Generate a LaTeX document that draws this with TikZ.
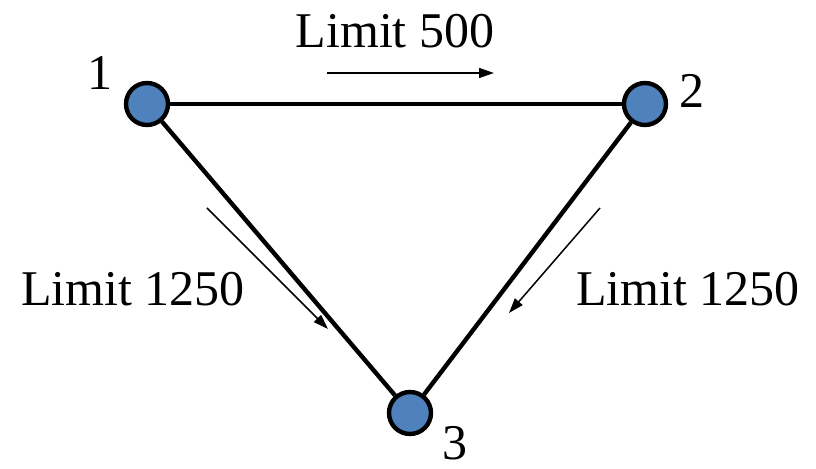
\documentclass[tikz,border=0pt]{standalone}
\usepackage{fontspec}
\setmainfont{Liberation Serif}
\newfontfamily\timesfont{Liberation Serif}
\usetikzlibrary{positioning, arrows.meta}
\definecolor{nodeblue}{HTML}{4F81BD}
\tikzset{
  vertex/.style={circle, draw=black, fill=nodeblue, line width=2.2pt, minimum size=21pt, inner sep=0pt},
  link/.style={line width=2.2pt},
  flow/.style={line width=0.75pt, -{Triangle[length=7.5pt, width=5pt]}}}

\begin{document}
\begin{tikzpicture}[
		x=0.5pt, y=-0.5pt,
		lbl/.style={font=\timesfont\fontsize{25}{30}\selectfont, inner sep=0pt}
		]
		\useasboundingbox (0,0) rectangle (816,469);
		
		\node[vertex] (v1) at (147,104) {};
		\node[vertex] (v2) at (645,104) {};
		\node[vertex] (v3) at (410,413) {};
		
		\draw[link] (v1) -- (v2);
		\draw[link] (v1) -- (v3);
		\draw[link] (v2) -- (v3);
		
		\node[lbl] (n1) at (100,73) {1};
		\node[lbl] (n2) at (692,91) {2};
		\node[lbl] (n3) at (455,443) {3};
		
		\node[lbl] (top) at (395,31) {Limit 500};
		\node[lbl] (left) at (133,289) {Limit 1250};
		\node[lbl] (right) at (688,289) {Limit 1250};
		
		\coordinate (a1) at (327,73);
		\coordinate (b1) at (494,73);
		\coordinate (a2) at (207,208);
		\coordinate (b2) at (328,329);
		\coordinate (a3) at (600,208);
		\coordinate (b3) at (509,313);
		
		\draw[flow] (a1) -- (b1);
		\draw[flow] (a2) -- (b2);
		\draw[flow] (a3) -- (b3);
		
	\end{tikzpicture}
\end{document}
